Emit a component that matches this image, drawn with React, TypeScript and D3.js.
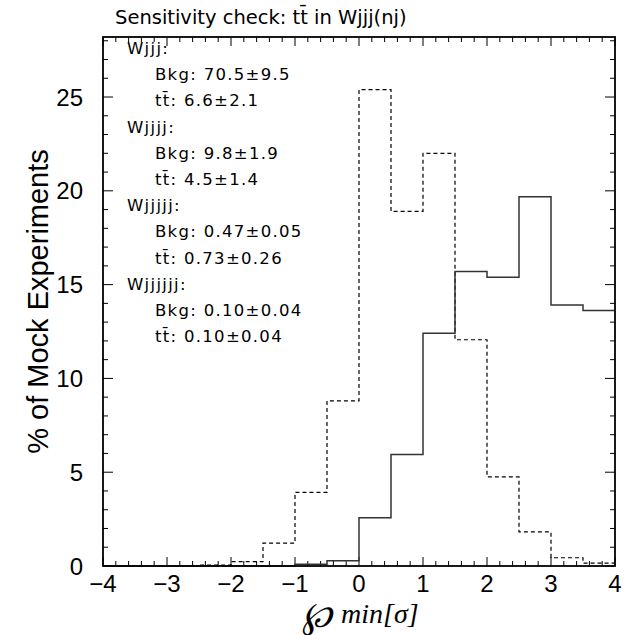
import React from "react";
import * as d3 from "d3";

const binEdges = [-4, -3.5, -3, -2.5, -2, -1.5, -1, -0.5, 0, 0.5, 1, 1.5, 2, 2.5, 3, 3.5, 4];
const solidValues = [0, 0, 0, 0, 0, 0, 0.09, 0.28, 2.57, 5.94, 12.41, 15.7, 15.39, 19.68, 13.92, 13.62];
const dashedValues = [0, 0, 0, 0.05, 0.23, 1.22, 3.92, 8.8, 25.4, 18.9, 22.0, 12.06, 4.75, 1.82, 0.44, 0.15];
const xTickValues = [-4, -3, -2, -1, 0, 1, 2, 3, 4];
const yTickValues = [0, 5, 10, 15, 20, 25];
const groupNames = ["Wjjj", "Wjjjj", "Wjjjjj", "Wjjjjjj"];
const bkgValues = ["70.5±9.5", "9.8±1.9", "0.47±0.05", "0.10±0.04"];
const ttbarValues = ["6.6±2.1", "4.5±1.4", "0.73±0.26", "0.10±0.04"];
const titleText = "Sensitivity check: tt\u0304 in Wjjj(nj)";
const yLabel = "% of Mock Experiments";

const W = 631, H = 635;
const L = 103, R = 615, T = 37, B = 566;

export default function App() {
  const x = d3.scaleLinear().domain([-4, 4]).range([L, R]);
  const y = d3.scaleLinear().domain([0, 28.2]).range([B, T]);

  const stepPts = (vals: number[]) => {
    const pts: [number, number][] = [[binEdges[0], 0]];
    vals.forEach((v, i) => {
      pts.push([binEdges[i], v]);
      pts.push([binEdges[i + 1], v]);
    });
    return pts;
  };
  const line = d3.line<[number, number]>().x(d => x(d[0])).y(d => y(d[1]));

  const xMinor = d3.range(-4, 4.0001, 0.2).map(v => Math.round(v * 10) / 10);
  const yMinor = d3.range(0, 28.01, 1);

  const font = "'Liberation Sans', Arial, sans-serif";
  const wide = "'DejaVu Sans', sans-serif";
  const lineH = 26.2;
  const legendTop = 54;

  return (
    <svg width={W} height={H} style={{ position: "absolute", left: 0, top: 0, background: "#fff" }}>
      <rect x={0} y={0} width={W} height={H} fill="#fff" />
      {xMinor.map((v, i) => {
        const major = Math.abs(v - Math.round(v)) < 1e-6;
        const len = major ? 9 : 5;
        return (
          <g key={"xt" + i} stroke="#000" strokeWidth={1}>
            <line x1={x(v)} x2={x(v)} y1={B} y2={B - len} />
            <line x1={x(v)} x2={x(v)} y1={T} y2={T + len} />
          </g>
        );
      })}
      {yMinor.map((v, i) => {
        const major = v % 5 === 0;
        const len = major ? 10 : 5;
        return (
          <g key={"yt" + i} stroke="#000" strokeWidth={1}>
            <line x1={L} x2={L + len} y1={y(v)} y2={y(v)} />
            <line x1={R} x2={R - len} y1={y(v)} y2={y(v)} />
          </g>
        );
      })}
      <path d={line(stepPts(dashedValues)) || ""} fill="none" stroke="#000" strokeWidth={1.2} strokeDasharray="4,3" />
      <path d={line(stepPts(solidValues)) || ""} fill="none" stroke="#333" strokeWidth={1.5} />
      <rect x={L} y={T} width={R - L} height={B - T} fill="none" stroke="#000" strokeWidth={1.8} />
      {xTickValues.map(v => (
        <text key={"xl" + v} x={x(v)} y={592} textAnchor="middle" fontFamily={font} fontSize={24}>
          {v < 0 ? "\u2212" + Math.abs(v) : String(v)}
        </text>
      ))}
      {yTickValues.map(v => (
        <text key={"yl" + v} x={83} y={y(v) + 8.5} textAnchor="end" fontFamily={font} fontSize={24}>
          {v}
        </text>
      ))}
      <text x={115} y={24} fontFamily={wide} fontSize={19.5}>{titleText}</text>
      <text transform={`translate(48,${(T + B) / 2}) rotate(-90)`} textAnchor="middle" fontFamily={font} fontSize={29}>
        {yLabel}
      </text>
      <text x={302} y={627} fontFamily="'DejaVu Serif', 'Liberation Serif', serif" fontStyle="italic" fontSize={36}>{"\u2118"}</text>
      <text x={341} y={623} fontFamily="'Liberation Serif', serif" fontStyle="italic" fontSize={28}>min[σ]</text>
      {groupNames.map((g, i) => {
        const base = legendTop + i * 3 * lineH;
        return (
          <g key={g} fontFamily={wide} fontSize={16.5} letterSpacing={1.3}>
            <text x={127} y={base}>{g + ":"}</text>
            <text x={155} y={base + lineH}>{"Bkg: " + bkgValues[i]}</text>
            <text x={155} y={base + 2 * lineH}>{"tt\u0304: " + ttbarValues[i]}</text>
          </g>
        );
      })}
    </svg>
  );
}
